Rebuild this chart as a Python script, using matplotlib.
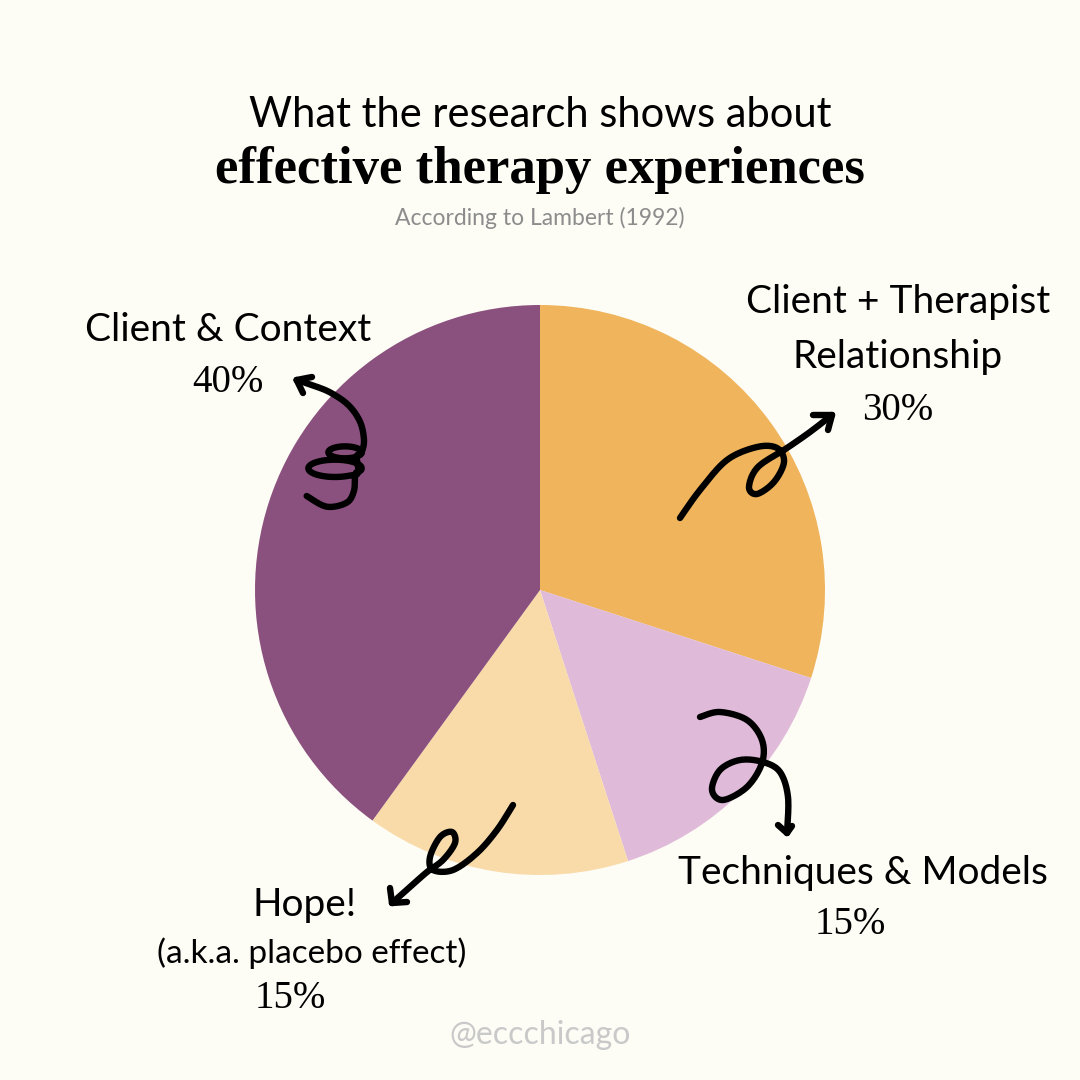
import numpy as np
import matplotlib
matplotlib.use('Agg')
import matplotlib.pyplot as plt

# data
labels = ['Client + Therapist\nRelationship', 'Techniques & Models',
          'Hope!', 'Client & Context']
values = [30, 15, 15, 40]
colors = ['#EFB45C', '#DFBBD9', '#F9DBAA', '#8B517E']
pct_text = ['30%', '15%', '15%', '40%']

BG = '#FDFDF6'
H = 1080


def fy(y):
    # pixel y (top-down) -> data y
    return H - y


def catmull(pts, n=12):
    pts = np.asarray(pts, float)
    p = np.vstack([pts[0], pts, pts[-1]])
    out = []
    for i in range(1, len(p) - 2):
        p0, p1, p2, p3 = p[i - 1], p[i], p[i + 1], p[i + 2]
        for t in np.linspace(0, 1, n, endpoint=False):
            t2, t3 = t * t, t * t * t
            out.append(0.5 * ((2 * p1) + (-p0 + p2) * t
                              + (2 * p0 - 5 * p1 + 4 * p2 - p3) * t2
                              + (-p0 + 3 * p1 - 3 * p2 + p3) * t3))
    out.append(p[-2])
    return np.array(out)


def ellipse_pts(cx, cy, rx, ry, a0, a1, n=8):
    th = np.radians(np.linspace(a0, a1, n))
    return list(zip(cx + rx * np.cos(th), cy + ry * np.sin(th)))


def squiggle(ax, pts, barbs, lw=4.6):
    c = catmull(pts)
    ax.plot(c[:, 0], fy(c[:, 1]), color='black', lw=lw,
            solid_capstyle='round', solid_joinstyle='round', zorder=5)
    tip = pts[-1]
    for b in barbs:
        ax.plot([b[0], tip[0]], [fy(b[1]), fy(tip[1])], color='black',
                lw=lw, solid_capstyle='round', zorder=5)


fig = plt.figure(figsize=(10.8, 10.8), dpi=100, facecolor=BG)
ax = fig.add_axes([0, 0, 1, 1])
ax.set_facecolor(BG)

ax.pie(values, colors=colors, startangle=90, counterclock=False,
       center=(540, fy(590)), radius=285,
       wedgeprops=dict(linewidth=0))
ax.set_xlim(0, H)
ax.set_ylim(0, H)
ax.set_aspect('equal')
ax.axis('off')

sans = ['Lato', 'DejaVu Sans']
serif = ['Liberation Serif', 'DejaVu Serif']

# titles
ax.text(540, fy(115), 'What the research shows about', ha='center',
        va='center', fontsize=30, family=sans, color='black')
ax.text(540, fy(170), 'effective therapy experiences', ha='center',
        va='center', fontsize=38, family=serif, weight='bold', color='black')
ax.text(540, fy(218), 'According to Lambert (1992)', ha='center',
        va='center', fontsize=16.5, family=sans, color='#8C8C8C')

# slice labels
lab_kw = dict(ha='center', va='center', fontsize=28, family=sans, color='black')
pct_kw = dict(ha='center', va='center', fontsize=28, family=serif, color='black')

ax.text(898, fy(302), 'Client + Therapist', **lab_kw)
ax.text(898, fy(357), 'Relationship', **lab_kw)
ax.text(898, fy(410), pct_text[0], **pct_kw)

ax.text(863, fy(873), labels[1], **lab_kw)
ax.text(850, fy(925), pct_text[1], **pct_kw)

ax.text(305, fy(905), labels[2], **lab_kw)
ax.text(312, fy(953), '(a.k.a. placebo effect)', ha='center', va='center',
        fontsize=24, family=sans, color='black')
ax.text(290, fy(998), pct_text[2], **pct_kw)

ax.text(228, fy(330), labels[3], **lab_kw)
ax.text(228, fy(382), pct_text[3], **pct_kw)

ax.text(540, fy(1035), '@eccchicago', ha='center', va='center',
        fontsize=23, family=sans, color='#C9C9C9')

# hand drawn arrows
# client & context: coil drawn in a 3x zoomed frame, then mapped back
coil = ([(80, 408), (140, 440), (200, 428), (222, 392)]
        + ellipse_pts(165, 325, 80, 26, 40, -330, 15)
        + ellipse_pts(195, 277, 50, 18, 45, -360, 12)
        + [(252, 240), (240, 185), (205, 135), (150, 97), (95, 75), (50, 60)])
coil = [(280 + x / 3, 360 + y / 3) for x, y in coil]
squiggle(ax, coil, [(312, 377), (303, 393)])

squiggle(ax, [(680, 518), (700, 490), (727, 460), (757, 447), (777, 448),
              (784, 462), (774, 482), (757, 494), (749, 487), (758, 467),
              (787, 448), (810, 432), (832, 415)],
         [(813, 415), (828, 430)])

squiggle(ax, [(700, 717), (720, 712), (747, 720), (762, 740), (762, 763),
              (747, 787), (723, 800), (712, 790), (720, 770), (740, 760),
              (763, 762), (780, 772), (788, 797), (787, 833)],
         [(778, 825), (792, 826)])

squiggle(ax, [(513, 805), (497, 830), (477, 853), (453, 870), (433, 870),
              (430, 857), (440, 837), (452, 832), (455, 843), (443, 860),
              (427, 872), (410, 887), (392, 903)],
         [(390, 888), (407, 902)])

fig.savefig('out.png', dpi=100, facecolor=BG)
